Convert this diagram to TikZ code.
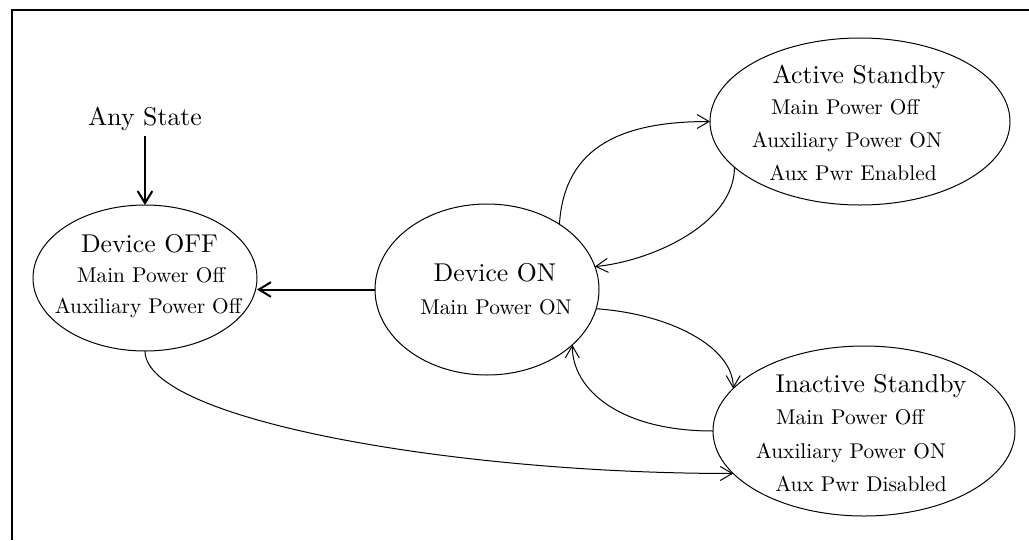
\documentclass[tikz,border=0pt]{standalone}
\usepackage{fontspec}
\setmainfont{lmroman10-regular.otf}
\usetikzlibrary{shapes.geometric,arrows.meta}
\tikzset{
  statebox/.style={draw, ellipse, line width=0.75pt, inner sep=0pt, outer sep=0pt},
  titletext/.style={font=\fontsize{19.3}{23}\selectfont, anchor=base, inner sep=2pt},
  subtext/.style={font=\fontsize{16}{19}\selectfont, anchor=base, inner sep=2pt},
  thinarrow/.style={line width=0.75pt, -{Straight Barb[length=9pt,width=10.5pt]}},
  thickarrow/.style={line width=1.5pt, -{Straight Barb[length=9pt,width=11pt]}},
  frameline/.style={line width=1.9pt}
}
\begin{document}
\begin{tikzpicture}[x=0.75pt,y=-0.75pt]
\useasboundingbox (0,0) rectangle (1029,540);
\draw[frameline] (12,540) -- (12,10) -- (1029,10);

% states
\node[statebox, minimum width=168pt, minimum height=109.5pt] (devoff) at (145,278) {};
\node[statebox, minimum width=168pt, minimum height=128.25pt] (devon) at (487,289.5) {};
\node[statebox, minimum width=225pt, minimum height=125.25pt] (active) at (860,121.5) {};
\node[statebox, minimum width=226.5pt, minimum height=127.5pt] (inactive) at (864,431) {};

% texts
\node[titletext, inner sep=4pt] (anystate) at (145,125) {Any State};

\node[titletext] (devofft) at (149.5,252) {Device OFF};
\node[subtext] (devoffa) at (151,282) {Main Power Off};
\node[subtext] (devoffb) at (148,313) {Auxiliary Power Off};

\node[titletext] (devont) at (495,281.5) {Device ON};
\node[subtext] (devona) at (496,314) {Main Power ON};

\node[titletext] (activet) at (859,83) {Active Standby};
\node[subtext] (activea) at (845,114) {Main Power Off};
\node[subtext] (activeb) at (847,147) {Auxiliary Power ON};
\node[subtext] (activec) at (853,180) {Aux Pwr Enabled};

\node[titletext] (inactivet) at (871,392) {Inactive Standby};
\node[subtext] (inactivea) at (850,424) {Main Power Off};
\node[subtext] (inactiveb) at (851,458) {Auxiliary Power ON};
\node[subtext] (inactivec) at (861,491) {Aux Pwr Disabled};

% connectors
\draw[thickarrow] (anystate) -- (devoff);
\draw[thickarrow] (devon.west) -- (devon.west -| devoff.east);
\draw[thinarrow] (devon.42) .. controls +(5,-80) and +(-85,0) .. (active.180);
\draw[thinarrow] (active.200) .. controls +(0,58) and +(54,-5) .. (devon.12);
\draw[thinarrow] (devon.-10) .. controls +(73,5) and +(0,-42) .. (inactive.162);
\draw[thinarrow] (inactive.180) .. controls +(-93,0) and +(0,45) .. (devon.-33);
\draw[thinarrow] (devoff.south) .. controls +(0,68) and +(-283,0) .. (inactive.198);
\end{tikzpicture}
\end{document}
